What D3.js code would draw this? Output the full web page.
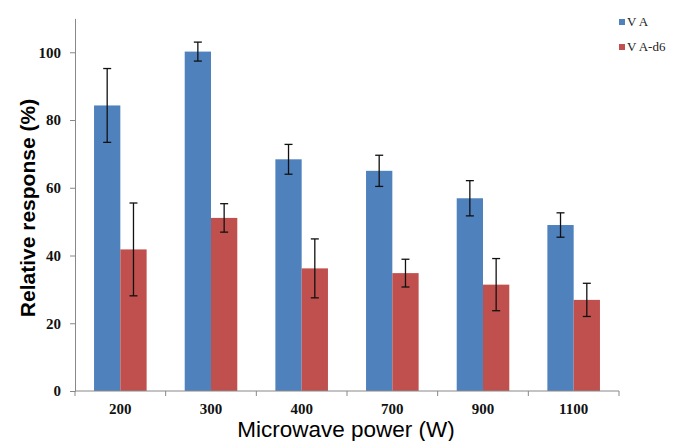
<!DOCTYPE html>
<html>
<head>
<meta charset="utf-8">
<script src="https://cdn.jsdelivr.net/npm/d3@7"></script>
<style>
  body { margin: 0; background: #fff; }
  svg { display: block; }
</style>
</head>
<body>
<div id="chart"></div>
<script>
// Data
const powers = ["200", "300", "400", "700", "900", "1100"];
const seriesNames = ["V A", "V A-d6"];
const vaValues = [84.3, 100.2, 68.4, 65.0, 56.9, 49.0];
const vaErrors = [10.9, 2.8, 4.4, 4.6, 5.2, 3.6];
const vad6Values = [41.8, 51.1, 36.2, 34.8, 31.4, 26.9];
const vad6Errors = [13.7, 4.2, 8.7, 4.1, 7.7, 4.9];
const yTicks = [0, 20, 40, 60, 80, 100];

const colors = ["#4f81bd", "#c0504d"];

const width = 673;
const height = 441;

const svg = d3.select("#chart")
    .append("svg")
    .attr("width", width)
    .attr("height", height);

// Scales
const x = d3.scaleBand()
    .domain(powers)
    .range([75, 619])
    .paddingInner(0.42)
    .paddingOuter(0.21);

const xSub = d3.scaleBand()
    .domain(seriesNames)
    .range([0, x.bandwidth()]);

const y = d3.scaleLinear()
    .domain([0, 110])
    .range([391, 18.4]);

// Build rows
const rows = powers.map((p, i) => ({
    power: p,
    bars: [
        { name: seriesNames[0], value: vaValues[i], err: vaErrors[i], color: colors[0] },
        { name: seriesNames[1], value: vad6Values[i], err: vad6Errors[i], color: colors[1] }
    ]
}));

// Bars
const groups = svg.selectAll(".grp")
    .data(rows)
    .enter()
    .append("g")
    .attr("class", "grp")
    .attr("transform", d => `translate(${x(d.power)},0)`);

groups.selectAll("rect")
    .data(d => d.bars)
    .enter()
    .append("rect")
    .attr("x", d => xSub(d.name))
    .attr("width", xSub.bandwidth())
    .attr("y", d => y(d.value))
    .attr("height", d => y(0) - y(d.value))
    .attr("fill", d => d.color);

// Error bars
const eb = groups.selectAll(".err")
    .data(d => d.bars)
    .enter()
    .append("g")
    .attr("class", "err")
    .attr("stroke", "#111")
    .attr("stroke-width", 1.3);

const mid = d => xSub(d.name) + xSub.bandwidth() / 2;

eb.append("line")
    .attr("x1", mid)
    .attr("x2", mid)
    .attr("y1", d => y(d.value + d.err))
    .attr("y2", d => y(d.value - d.err));

eb.append("line")
    .attr("x1", d => mid(d) - 4)
    .attr("x2", d => mid(d) + 4)
    .attr("y1", d => y(d.value + d.err))
    .attr("y2", d => y(d.value + d.err));

eb.append("line")
    .attr("x1", d => mid(d) - 4)
    .attr("x2", d => mid(d) + 4)
    .attr("y1", d => y(d.value - d.err))
    .attr("y2", d => y(d.value - d.err));

// Y axis
const yAxis = svg.append("g")
    .attr("transform", `translate(75,0)`)
    .call(d3.axisLeft(y).tickValues(yTicks).tickSize(5).tickPadding(9).tickSizeOuter(0));

yAxis.select(".domain").attr("stroke", "#888");
yAxis.selectAll(".tick line").attr("stroke", "#888");
yAxis.selectAll(".tick text")
    .attr("fill", "#111")
    .style("font-family", "'Liberation Serif', 'Times New Roman', serif")
    .style("font-weight", "bold")
    .style("font-size", "15px");

// X axis: ticks at category boundaries
const xAxis = svg.append("g")
    .attr("transform", `translate(0,${y(0)})`);

xAxis.append("line")
    .attr("x1", x.range()[0])
    .attr("x2", x.range()[1])
    .attr("stroke", "#888");

const step = x.step();
const boundaries = d3.range(powers.length + 1).map(i => x.range()[0] + i * step);
xAxis.selectAll(".xt")
    .data(boundaries)
    .enter()
    .append("line")
    .attr("x1", d => d)
    .attr("x2", d => d)
    .attr("y1", 0)
    .attr("y2", 5)
    .attr("stroke", "#888");

xAxis.selectAll(".xl")
    .data(powers)
    .enter()
    .append("text")
    .attr("x", d => x(d) + x.bandwidth() / 2)
    .attr("y", 23)
    .attr("text-anchor", "middle")
    .attr("fill", "#111")
    .style("font-family", "'Liberation Serif', 'Times New Roman', serif")
    .style("font-weight", "bold")
    .style("font-size", "15px")
    .text(d => d);

// Axis titles
svg.append("text")
    .attr("x", 346)
    .attr("y", 437)
    .attr("text-anchor", "middle")
    .attr("fill", "#000")
    .style("font-family", "'Liberation Sans', Arial, sans-serif")
    .style("font-size", "22.5px")
    .text("Microwave power (W)");

svg.append("text")
    .attr("transform", "translate(35,208) rotate(-90)")
    .attr("text-anchor", "middle")
    .attr("fill", "#000")
    .style("font-family", "'Liberation Sans', Arial, sans-serif")
    .style("font-weight", "bold")
    .style("font-size", "21px")
    .text("Relative response (%)");

// Legend
const legend = svg.selectAll(".leg")
    .data(seriesNames)
    .enter()
    .append("g")
    .attr("class", "leg")
    .attr("transform", (d, i) => `translate(619,${19 + i * 25})`);

legend.append("rect")
    .attr("width", 6)
    .attr("height", 6)
    .attr("fill", (d, i) => colors[i]);

legend.append("text")
    .attr("x", 8)
    .attr("y", 7)
    .attr("fill", "#222")
    .style("font-family", "'Liberation Serif', 'Times New Roman', serif")
    .style("font-size", "13px")
    .text(d => d);
</script>
</body>
</html>
